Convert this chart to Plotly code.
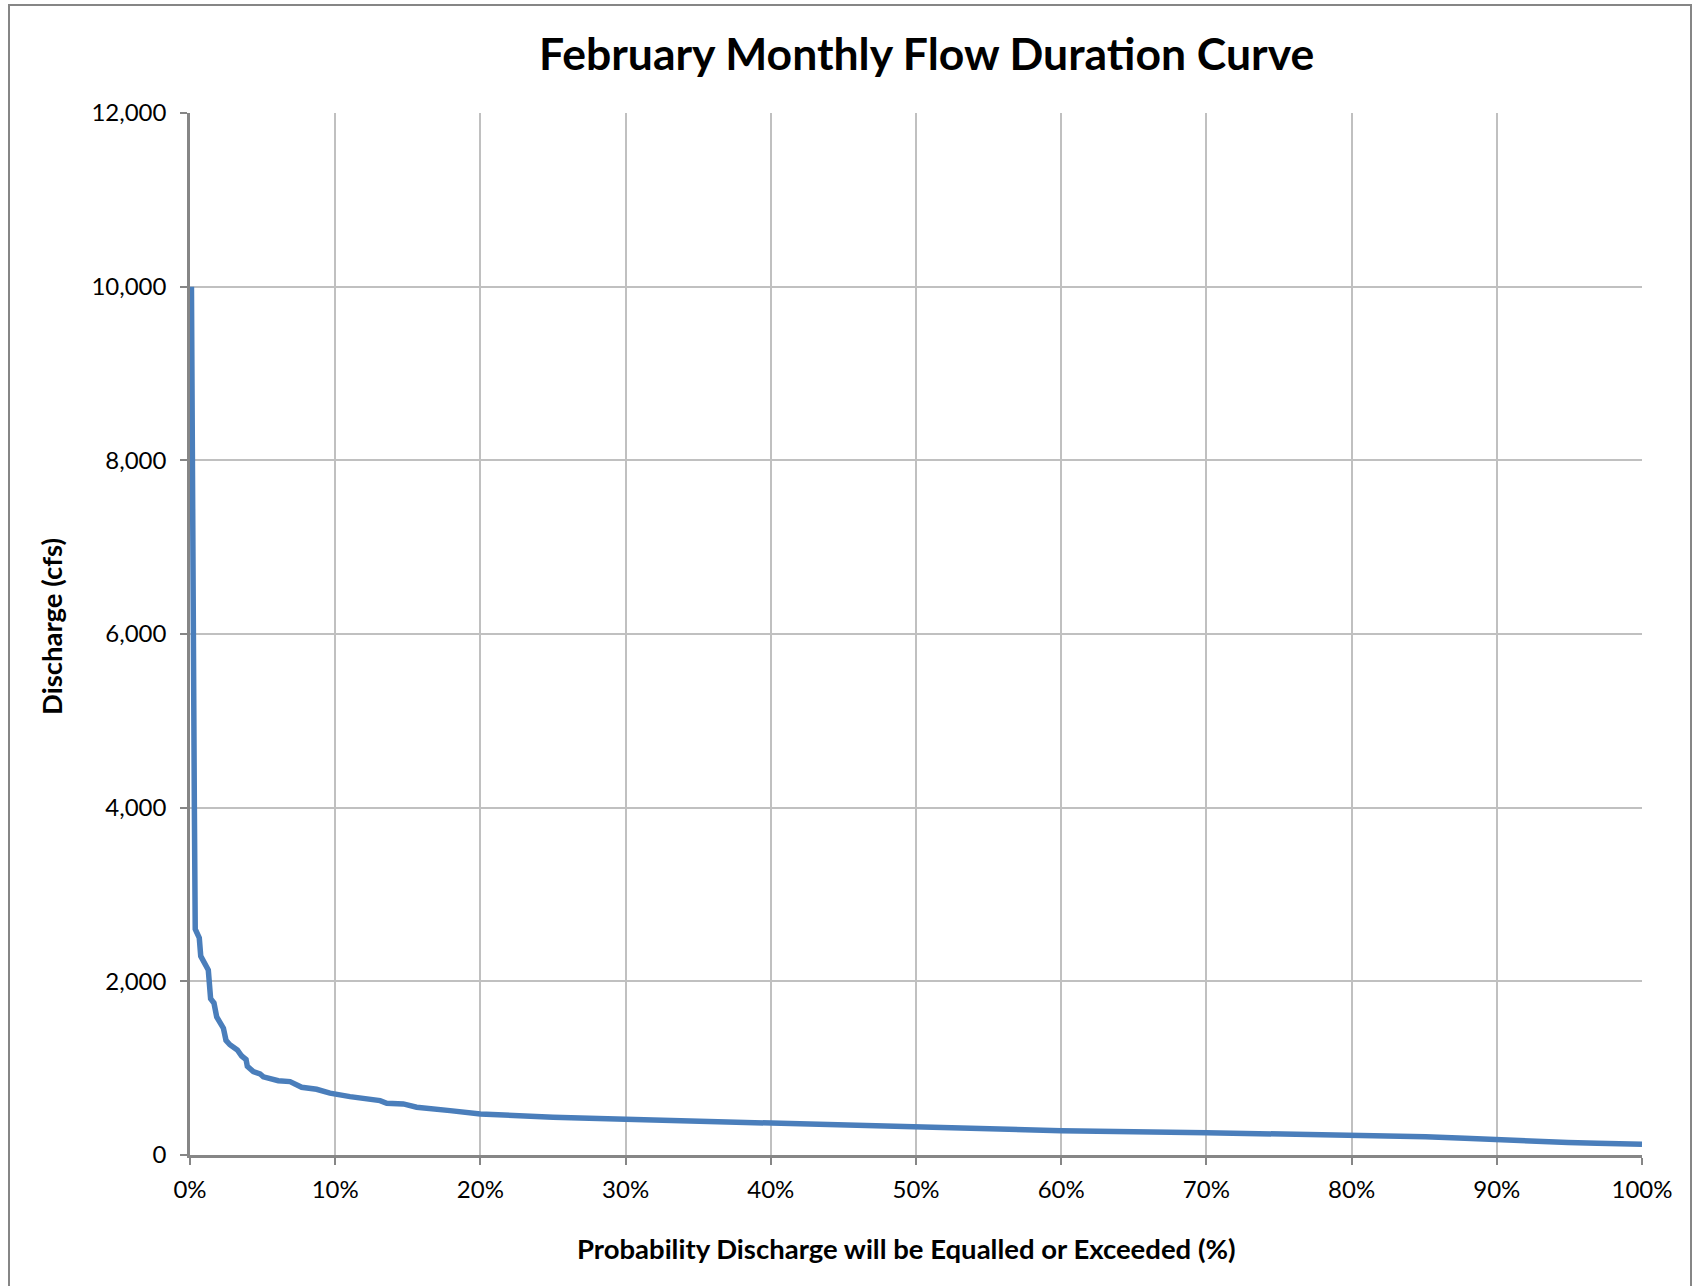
import plotly.graph_objects as go

exceedance_pct = [0.1, 0.15, 0.2, 0.3, 0.36, 0.64, 0.74, 1.03, 1.26, 1.42, 1.65, 1.84, 2.07, 2.30,
                  2.48, 2.75, 3.26, 3.56, 3.86, 3.95, 4.36, 4.82, 5.05, 6.08, 6.89, 7.35, 7.69,
                  8.72, 9.64, 11.02, 13.09, 13.55, 14.69, 15.61, 16.76, 17.91, 20.0, 21.06, 25.0,
                  30.0, 35.6, 40.0, 44.8, 50.0, 55.8, 60.0, 70.0, 80.0, 85.1, 87.8, 90.0, 91.8,
                  94.9, 96.9, 100.0]
discharge_cfs = [10000, 7500, 5800, 4000, 2600, 2500, 2290, 2210, 2130, 1800, 1750, 1590, 1520, 1460,
                 1320, 1270, 1210, 1140, 1100, 1020, 960, 935, 900, 855, 845, 805, 780,
                 757, 712, 672, 626, 596, 588, 550, 534, 511, 472, 461, 434,
                 411, 384, 365, 342, 319, 296, 280, 257, 230, 211, 192, 173, 154,
                 143, 134, 123]

x_ticks = [0, 10, 20, 30, 40, 50, 60, 70, 80, 90, 100]
x_tick_labels = ["0%", "10%", "20%", "30%", "40%", "50%", "60%", "70%", "80%", "90%", "100%"]
y_ticks = [0, 2000, 4000, 6000, 8000, 10000, 12000]

title_text = "February Monthly Flow Duration Curve"
x_title = "Probability Discharge will be Equalled or Exceeded (%)"
y_title = "Discharge (cfs)"

W, H = 1694, 1286
L, R, T, B = 190, 1642, 113, 1155
pw, ph = R - L, B - T

font_family = "Lato, 'Open Sans', sans-serif"

fig = go.Figure()
fig.add_trace(go.Scatter(
    x=exceedance_pct, y=discharge_cfs, mode="lines",
    line=dict(color="#4A7EBB", width=5.5),
    showlegend=False, hoverinfo="skip",
))

def px_x(p):
    return (p - L) / pw

def px_y(p):
    return (B - p) / ph

fig.update_layout(
    width=W, height=H,
    margin=dict(l=L, r=W - R, t=T, b=H - B, autoexpand=False),
    paper_bgcolor="white", plot_bgcolor="white",
    font=dict(family=font_family, color="black"),
    showlegend=False,
    shapes=[dict(type="rect", xref="paper", yref="paper",
                 x0=px_x(9), x1=px_x(1691), y0=px_y(1300), y1=px_y(5),
                 line=dict(color="#868686", width=2), fillcolor="rgba(0,0,0,0)", layer="below")],
    annotations=[
        dict(text="<b>" + title_text + "</b>", xref="paper", yref="paper",
             x=px_x(926), y=px_y(52), xanchor="center", yanchor="middle",
             showarrow=False, font=dict(size=44.5, family=font_family, color="black")),
        dict(text="<b>" + x_title + "</b>", xref="paper", yref="paper",
             x=px_x(906), y=px_y(1248), xanchor="center", yanchor="middle",
             showarrow=False, font=dict(size=27.5, family=font_family, color="black")),
        dict(text="<b>" + y_title + "</b>", xref="paper", yref="paper",
             x=px_x(51), y=px_y(627), xanchor="center", yanchor="middle", textangle=-90,
             showarrow=False, font=dict(size=27.5, family=font_family, color="black")),
    ],
)

fig.update_xaxes(
    range=[0, 100], tickvals=x_ticks, ticktext=x_tick_labels,
    showgrid=True, gridcolor="#C0C0C0", gridwidth=1.5,
    showline=True, linecolor="#868686", linewidth=2.5,
    ticks="outside", ticklen=7, tickcolor="#868686", tickwidth=2,
    tickfont=dict(size=24, family=font_family, color="black"),
    ticklabelstandoff=4, zeroline=False,
)
fig.update_yaxes(
    range=[0, 12000], tickvals=y_ticks, tickformat=",",
    showgrid=True, gridcolor="#C0C0C0", gridwidth=1.5,
    showline=True, linecolor="#868686", linewidth=2.5,
    ticks="outside", ticklen=7, tickcolor="#868686", tickwidth=2,
    tickfont=dict(size=24, family=font_family, color="black"),
    ticklabelstandoff=9, zeroline=False,
)

fig.write_html("out.html")
